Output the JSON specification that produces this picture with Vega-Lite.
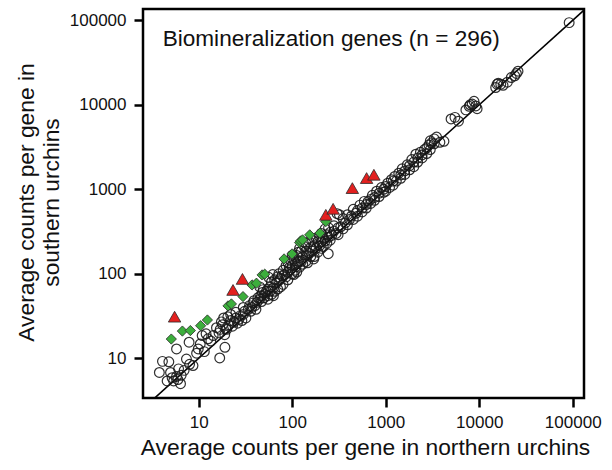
{
  "$schema": "https://vega.github.io/schema/vega-lite/v6.json",
  "width": 441,
  "height": 389,
  "autosize": {"type": "none"},
  "padding": {"left": 143, "top": 9, "right": 28, "bottom": 72},
  "background": "white",
  "config": {
    "view": {"stroke": "black", "strokeWidth": 2.5},
    "font": "Liberation Sans",
    "axis": {"grid": false, "domain": false, "tickColor": "black", "tickWidth": 2.5, "tickSize": 9, "labelFontSize": 17, "labelColor": "#111", "titleColor": "#111", "titleFontSize": 22.8, "titleFontWeight": "normal", "labelFont": "Liberation Sans", "titleFont": "Liberation Sans"}
  },
  "datasets": {
    "pts": [
      {"n":3.8,"s":6.8,"g":"o"},{"n":4.1,"s":9.2,"g":"o"},{"n":4.8,"s":9.1,"g":"o"},{"n":5.0,"s":6.8,"g":"o"},{"n":5.8,"s":6.1,"g":"o"},{"n":6.4,"s":5.0,"g":"o"},{"n":6.1,"s":7.5,"g":"o"},{"n":5.4,"s":5.4,"g":"o"},{"n":4.6,"s":5.4,"g":"o"},{"n":5.8,"s":12.9,"g":"o"},{"n":7.4,"s":9.8,"g":"o"},{"n":8.7,"s":8.2,"g":"o"},{"n":6.5,"s":6.3,"g":"o"},{"n":7.0,"s":7.2,"g":"o"},{"n":5.2,"s":5.9,"g":"o"},{"n":6.0,"s":5.6,"g":"o"},{"n":8.0,"s":8.5,"g":"o"},
      {"n":9.9,"s":12.9,"g":"o"},{"n":10.4,"s":14.8,"g":"o"},{"n":7.9,"s":15.5,"g":"o"},{"n":10.9,"s":18.6,"g":"o"},{"n":12.6,"s":17.0,"g":"o"},{"n":14.3,"s":18.6,"g":"o"},{"n":16.8,"s":10.1,"g":"o"},{"n":19.1,"s":13.5,"g":"o"},{"n":9.5,"s":11.5,"g":"o"},{"n":11.5,"s":12.0,"g":"o"},{"n":12.0,"s":19.5,"g":"o"},{"n":13.5,"s":16.0,"g":"o"},{"n":17.0,"s":22.0,"g":"o"},{"n":18.0,"s":25.0,"g":"o"},{"n":16.5,"s":20.0,"g":"o"},{"n":19.0,"s":19.0,"g":"o"},{"n":18.5,"s":30.0,"g":"o"},{"n":17.5,"s":27.0,"g":"o"},{"n":15.5,"s":23.0,"g":"o"},{"n":19.5,"s":22.5,"g":"o"},
      {"n":20,"s":22,"g":"o"},{"n":21,"s":25,"g":"o"},{"n":22,"s":28,"g":"o"},{"n":20.5,"s":31,"g":"o"},{"n":23,"s":24,"g":"o"},{"n":24,"s":27,"g":"o"},{"n":25,"s":30,"g":"o"},{"n":22,"s":33,"g":"o"},{"n":26,"s":26,"g":"o"},{"n":27,"s":29,"g":"o"},{"n":28,"s":32,"g":"o"},{"n":25,"s":35,"g":"o"},{"n":29,"s":28,"g":"o"},{"n":30,"s":33,"g":"o"},{"n":31,"s":36,"g":"o"},{"n":32,"s":30,"g":"o"},{"n":34,"s":38,"g":"o"},{"n":30,"s":40,"g":"o"},{"n":35,"s":42,"g":"o"},{"n":36,"s":36,"g":"o"},{"n":37,"s":40,"g":"o"},{"n":38,"s":45,"g":"o"},{"n":40,"s":42,"g":"o"},{"n":39,"s":48,"g":"o"},{"n":41,"s":38,"g":"o"},{"n":42,"s":46,"g":"o"},{"n":45,"s":50,"g":"o"},{"n":46,"s":55,"g":"o"},{"n":43,"s":52,"g":"o"},{"n":47,"s":47,"g":"o"},{"n":48,"s":60,"g":"o"},{"n":50,"s":52,"g":"o"},{"n":51,"s":57,"g":"o"},{"n":53,"s":62,"g":"o"},{"n":55,"s":55,"g":"o"},{"n":49,"s":65,"g":"o"},{"n":56,"s":91,"g":"o"},{"n":45,"s":70,"g":"o"},
      {"n":55,"s":50,"g":"o"},{"n":55,"s":66,"g":"o"},{"n":58,"s":70,"g":"o"},{"n":58,"s":62,"g":"o"},{"n":60,"s":57,"g":"o"},{"n":60,"s":80,"g":"o"},{"n":63,"s":68,"g":"o"},{"n":63,"s":55,"g":"o"},{"n":65,"s":62,"g":"o"},{"n":65,"s":85,"g":"o"},{"n":68,"s":78,"g":"o"},{"n":70,"s":66,"g":"o"},{"n":70,"s":92,"g":"o"},{"n":72,"s":83,"g":"o"},{"n":72,"s":100,"g":"o"},{"n":75,"s":70,"g":"o"},{"n":75,"s":88,"g":"o"},{"n":78,"s":95,"g":"o"},{"n":80,"s":75,"g":"o"},{"n":80,"s":110,"g":"o"},{"n":83,"s":98,"g":"o"},{"n":86,"s":92,"g":"o"},{"n":86,"s":125,"g":"o"},{"n":90,"s":105,"g":"o"},{"n":90,"s":85,"g":"o"},{"n":90,"s":135,"g":"o"},{"n":93,"s":118,"g":"o"},{"n":96,"s":112,"g":"o"},{"n":96,"s":145,"g":"o"},{"n":100,"s":125,"g":"o"},{"n":100,"s":100,"g":"o"},{"n":100,"s":165,"g":"o"},{"n":104,"s":150,"g":"o"},{"n":104,"s":98,"g":"o"},{"n":108,"s":132,"g":"o"},{"n":108,"s":110,"g":"o"},{"n":112,"s":165,"g":"o"},{"n":112,"s":105,"g":"o"},{"n":116,"s":140,"g":"o"},{"n":116,"s":180,"g":"o"},{"n":120,"s":120,"g":"o"},{"n":120,"s":200,"g":"o"},{"n":125,"s":140,"g":"o"},{"n":125,"s":185,"g":"o"},{"n":130,"s":160,"g":"o"},{"n":130,"s":130,"g":"o"},{"n":135,"s":210,"g":"o"},{"n":140,"s":140,"g":"o"},{"n":140,"s":185,"g":"o"},{"n":140,"s":230,"g":"o"},{"n":146,"s":165,"g":"o"},{"n":146,"s":135,"g":"o"},{"n":152,"s":175,"g":"o"},{"n":152,"s":240,"g":"o"},{"n":158,"s":205,"g":"o"},{"n":158,"s":160,"g":"o"},{"n":165,"s":185,"g":"o"},{"n":165,"s":250,"g":"o"},{"n":172,"s":215,"g":"o"},{"n":172,"s":160,"g":"o"},{"n":180,"s":200,"g":"o"},{"n":180,"s":265,"g":"o"},{"n":188,"s":180,"g":"o"},{"n":188,"s":240,"g":"o"},{"n":196,"s":215,"g":"o"},{"n":196,"s":275,"g":"o"},{"n":205,"s":240,"g":"o"},{"n":205,"s":200,"g":"o"},{"n":205,"s":300,"g":"o"},{"n":215,"s":265,"g":"o"},{"n":215,"s":210,"g":"o"},{"n":225,"s":245,"g":"o"},{"n":225,"s":340,"g":"o"},{"n":235,"s":290,"g":"o"},{"n":235,"s":230,"g":"o"},{"n":245,"s":270,"g":"o"},{"n":245,"s":350,"g":"o"},{"n":255,"s":310,"g":"o"},{"n":255,"s":250,"g":"o"},{"n":265,"s":285,"g":"o"},{"n":280,"s":320,"g":"o"},{"n":280,"s":370,"g":"o"},{"n":295,"s":300,"g":"o"},{"n":62,"s":98,"g":"o"},{"n":243,"s":173,"g":"o"},{"n":302,"s":515,"g":"o"},{"n":320,"s":500,"g":"o"},{"n":110,"s":122,"g":"o"},{"n":170,"s":150,"g":"o"},
      {"n":310,"s":350,"g":"o"},{"n":310,"s":290,"g":"o"},{"n":330,"s":360,"g":"o"},{"n":350,"s":340,"g":"o"},{"n":350,"s":450,"g":"o"},{"n":370,"s":400,"g":"o"},{"n":390,"s":380,"g":"o"},{"n":390,"s":500,"g":"o"},{"n":410,"s":440,"g":"o"},{"n":430,"s":480,"g":"o"},{"n":450,"s":440,"g":"o"},{"n":450,"s":580,"g":"o"},{"n":480,"s":520,"g":"o"},{"n":500,"s":560,"g":"o"},{"n":500,"s":480,"g":"o"},{"n":530,"s":650,"g":"o"},{"n":560,"s":600,"g":"o"},{"n":560,"s":540,"g":"o"},{"n":590,"s":720,"g":"o"},{"n":620,"s":660,"g":"o"},{"n":620,"s":600,"g":"o"},{"n":650,"s":720,"g":"o"},{"n":690,"s":760,"g":"o"},{"n":690,"s":680,"g":"o"},{"n":720,"s":850,"g":"o"},{"n":760,"s":800,"g":"o"},{"n":760,"s":740,"g":"o"},{"n":800,"s":950,"g":"o"},{"n":850,"s":900,"g":"o"},{"n":850,"s":820,"g":"o"},{"n":900,"s":1050,"g":"o"},{"n":950,"s":1000,"g":"o"},{"n":950,"s":920,"g":"o"},
      {"n":1000,"s":1080,"g":"o"},{"n":1000,"s":950,"g":"o"},{"n":1050,"s":1180,"g":"o"},{"n":1100,"s":1050,"g":"o"},{"n":1150,"s":1300,"g":"o"},{"n":1200,"s":1250,"g":"o"},{"n":1200,"s":1120,"g":"o"},{"n":1250,"s":1420,"g":"o"},{"n":1300,"s":1250,"g":"o"},{"n":1380,"s":1550,"g":"o"},{"n":1450,"s":1480,"g":"o"},{"n":1450,"s":1350,"g":"o"},{"n":1500,"s":1750,"g":"o"},{"n":1600,"s":1650,"g":"o"},{"n":1600,"s":1500,"g":"o"},{"n":1700,"s":1950,"g":"o"},{"n":1800,"s":1900,"g":"o"},{"n":1800,"s":1700,"g":"o"},{"n":1900,"s":2250,"g":"o"},{"n":2000,"s":2100,"g":"o"},{"n":2000,"s":1850,"g":"o"},{"n":2100,"s":2600,"g":"o"},{"n":2200,"s":2350,"g":"o"},{"n":2200,"s":2100,"g":"o"},{"n":2350,"s":2750,"g":"o"},{"n":2450,"s":2550,"g":"o"},{"n":2450,"s":2350,"g":"o"},{"n":2600,"s":2950,"g":"o"},{"n":2750,"s":3100,"g":"o"},{"n":2750,"s":2650,"g":"o"},{"n":2900,"s":3350,"g":"o"},{"n":3000,"s":2950,"g":"o"},{"n":3000,"s":3750,"g":"o"},{"n":3100,"s":3550,"g":"o"},{"n":3300,"s":3450,"g":"o"},{"n":3300,"s":3950,"g":"o"},{"n":3500,"s":4150,"g":"o"},{"n":3800,"s":3600,"g":"o"},{"n":4200,"s":3700,"g":"o"},
      {"n":5000,"s":6800,"g":"o"},{"n":6000,"s":6400,"g":"o"},{"n":5500,"s":7100,"g":"o"},{"n":7200,"s":8700,"g":"o"},{"n":7800,"s":9600,"g":"o"},{"n":8400,"s":10200,"g":"o"},{"n":8800,"s":11000,"g":"o"},{"n":9500,"s":9000,"g":"o"},{"n":9200,"s":9700,"g":"o"},{"n":8000,"s":10000,"g":"o"},{"n":15000,"s":16000,"g":"o"},{"n":16000,"s":18000,"g":"o"},{"n":17000,"s":17500,"g":"o"},{"n":18000,"s":17000,"g":"o"},{"n":15500,"s":17500,"g":"o"},{"n":20000,"s":18500,"g":"o"},{"n":24000,"s":22000,"g":"o"},{"n":25000,"s":23500,"g":"o"},{"n":26000,"s":25000,"g":"o"},{"n":22000,"s":21000,"g":"o"},{"n":91600,"s":93800,"g":"o"},
      {"n":5.1,"s":16.9,"g":"d"},{"n":6.7,"s":21,"g":"d"},{"n":8.15,"s":21.3,"g":"d"},{"n":10.5,"s":24.3,"g":"d"},{"n":12.4,"s":28.4,"g":"d"},{"n":20.6,"s":41.7,"g":"d"},{"n":22.4,"s":44,"g":"d"},{"n":29.8,"s":53.7,"g":"d"},{"n":37.2,"s":73.8,"g":"d"},{"n":41.5,"s":77.4,"g":"d"},{"n":47.7,"s":97,"g":"d"},{"n":50.9,"s":98.9,"g":"d"},{"n":81.9,"s":150,"g":"d"},{"n":99.7,"s":172,"g":"d"},{"n":120,"s":234,"g":"d"},{"n":123,"s":245,"g":"d"},{"n":129,"s":252,"g":"d"},{"n":154,"s":289,"g":"d"},{"n":198,"s":303,"g":"d"},{"n":229,"s":415,"g":"d"},
      {"n":5.53,"s":31.1,"g":"t"},{"n":23.3,"s":64.4,"g":"t"},{"n":29.4,"s":87,"g":"t"},{"n":229,"s":499,"g":"t"},{"n":274,"s":588,"g":"t"},{"n":440,"s":1033,"g":"t"},{"n":625,"s":1358,"g":"t"},{"n":748,"s":1486,"g":"t"}
    ],
    "diag": [{"n": 1, "s": 1}, {"n": 1000000, "s": 1000000}],
    "note": [{"n": 4.12, "s": 50000, "label": "Biomineralization genes (n = 296)"}]
  },
  "encoding": {
    "x": {"field": "n", "type": "quantitative",
      "scale": {"type": "log", "domain": [2.54, 132000], "nice": false, "zero": false},
      "axis": {"values": [10, 100, 1000, 10000, 100000], "format": "d", "labelPadding": 7, "title": "Average counts per gene in northern urchins", "titleX": 222, "titleY": 56, "titleBaseline": "alphabetic", "titleAnchor": "middle", "titleAlign": "center"}},
    "y": {"field": "s", "type": "quantitative",
      "scale": {"type": "log", "domain": [3.39, 136000], "nice": false, "zero": false},
      "axis": {"values": [10, 100, 1000, 10000, 100000], "format": "d", "labelPadding": 8, "title": ["Average counts per gene in", "southern urchins"], "titleLineHeight": 25, "titleAngle": 270, "titleX": -110, "titleY": 193, "titleBaseline": "alphabetic", "titleAlign": "center"}}
  },
  "layer": [
    {"data": {"name": "diag"}, "mark": {"type": "line", "color": "black", "strokeWidth": 1.6, "clip": true}, "encoding": {}},
    {"data": {"name": "pts"}, "transform": [{"filter": "datum.g === 'o'"}], "mark": {"type": "point", "shape": "circle", "size": 95, "filled": false, "stroke": "#1a1a1a", "strokeWidth": 1.2, "opacity": 0.9}},
    {"data": {"name": "pts"}, "transform": [{"filter": "datum.g === 'd'"}], "mark": {"type": "point", "shape": "diamond", "size": 105, "filled": true, "fill": "#3cae3c", "stroke": "#2a2a2a", "strokeWidth": 0.8, "opacity": 1}},
    {"data": {"name": "pts"}, "transform": [{"filter": "datum.g === 't'"}], "mark": {"type": "point", "shape": "triangle-up", "size": 155, "filled": true, "fill": "#e3201f", "stroke": "#2a2a2a", "strokeWidth": 0.8, "opacity": 1}},
    {"data": {"name": "note"}, "mark": {"type": "text", "align": "left", "baseline": "alphabetic", "fontSize": 22.6, "color": "#111", "font": "Liberation Sans"}, "encoding": {"text": {"field": "label"}}}
  ]
}
